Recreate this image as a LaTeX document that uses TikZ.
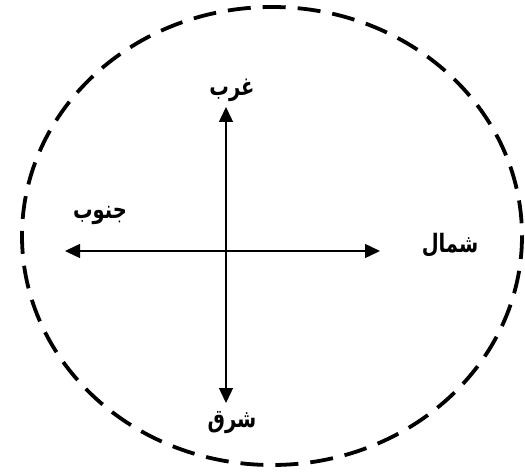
\documentclass[tikz,border=0pt]{standalone}
\usepackage{fontspec}
\usepackage{tikz}
\usetikzlibrary{arrows.meta,positioning,calc}
\TeXXeTstate=1
\newfontfamily\arabicfont[Script=Arabic]{DejaVu Sans}
\newcommand{\arlabel}[1]{\scalebox{1}[1.3]{\beginR #1\endR}}

\begin{document}
\begin{tikzpicture}[
    x=1pt,y=-1pt,
    >={Triangle[length=15pt,width=14pt]},
    axis/.style={<->,line width=1.4pt,draw=black},
    boundary/.style={draw=black,line width=3.8pt,dash pattern=on 23pt off 12pt},
    direction/.style={font=\arabicfont\bfseries\fontsize{19.5}{22}\selectfont,inner sep=1pt}
  ]
    \useasboundingbox (0,0) rectangle (525,476);
    \draw[boundary] (272,236) ellipse [x radius=250,y radius=229];

    \coordinate (centre) at (226,251);
    \coordinate (topend) at (226,107);
    \coordinate (bottomend) at (226,403);
    \coordinate (leftend) at (65,251);
    \coordinate (rightend) at (380,251);

    \node[direction] (west) at (232,90) {\arlabel{غرب}};
    \node[direction] (east) at (232,423) {\arlabel{شرق}};
    \node[direction] (south) at (100,215) {\arlabel{جنوب}};
    \node[direction] (north) at (450,245) {\arlabel{شمال}};

    \draw[axis] (bottomend) -- (topend);
    \draw[axis] (leftend) -- (rightend);
  \end{tikzpicture}
\end{document}
